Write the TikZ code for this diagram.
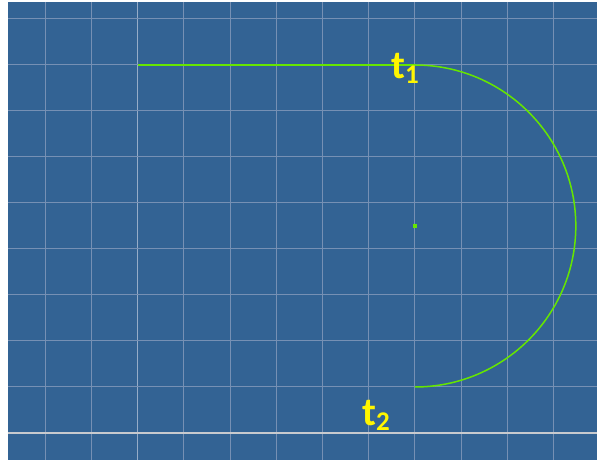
\documentclass[tikz,border=0pt]{standalone}
\usepackage{fontspec}
\setmainfont{Carlito}
\definecolor{bgblue}{RGB}{51,99,148}
\definecolor{gridc}{RGB}{118,144,180}
\definecolor{axisc}{RGB}{150,172,200}
\definecolor{basec}{RGB}{200,202,206}
\definecolor{curvec}{RGB}{102,230,0}
\definecolor{labc}{RGB}{255,245,0}
\tikzset{
  gridline/.style={draw=gridc, line width=1pt},
  curve/.style={draw=curvec, line width=1.8pt},
  lab/.style={text=labc, font=\bfseries\fontsize{40}{40}\selectfont, inner sep=0pt, anchor=base west},
}
\newcommand{\sublab}[1]{\raisebox{-5pt}{\fontsize{27}{27}\selectfont #1}}
\begin{document}
\begin{tikzpicture}[x=1pt,y=1pt]
\useasboundingbox (0,0) rectangle (597,460);
\fill[white] (0,0) rectangle (597,460);
\fill[bgblue] (8,0) rectangle (597,458);
% vertical grid lines
\foreach \k in {-2,-1,1,2,3,4,5,6,7,8,9}
  \draw[gridline] ({137.7+46.2*\k},0) -- ({137.7+46.2*\k},458);
\draw[draw=axisc, line width=1.2pt] (137.7,0) -- (137.7,458);
% horizontal grid lines
\foreach \k in {1,...,9}
  \draw[gridline] (8,{27+46*\k}) -- (597,{27+46*\k});
\draw[draw=basec, line width=2pt] (8,27) -- (597,27);
% geometry
\coordinate (start) at (137.7,395);
\coordinate (t1pt) at (414.8,395);
\coordinate (c) at (414.8,234);
\draw[curve] (start) -- (t1pt);
\draw[draw=curvec, line width=1.5pt] (t1pt) arc[start angle=90, end angle=-90, radius=161] coordinate (t2pt);
\fill[curvec] ([shift={(-2,-2)}]c) rectangle ([shift={(2,2)}]c);
\node[lab] (l1) at (391,381) {t\sublab{1}};
\node[lab] (l2) at (362,34) {t\sublab{2}};
\end{tikzpicture}
\end{document}
